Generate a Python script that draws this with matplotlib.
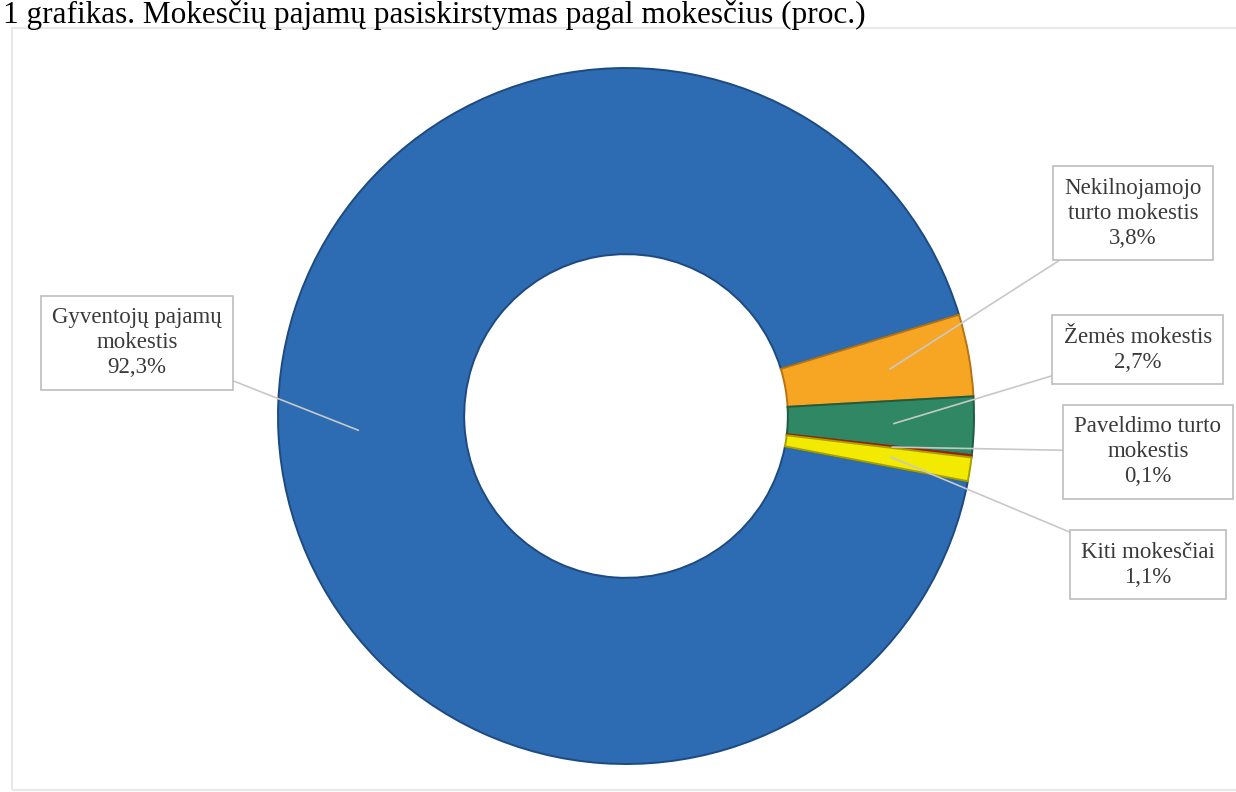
import matplotlib.pyplot as plt
import numpy as np
from matplotlib.patches import Rectangle

labels = ['Gyventojų pajamų\nmokestis', 'Nekilnojamojo\nturto mokestis', 'Žemės mokestis',
          'Paveldimo turto\nmokestis', 'Kiti mokesčiai']
values = [92.3, 3.8, 2.7, 0.1, 1.1]
colors = ['#2d6cb2', '#f7a624', '#2f8863', '#e0301e', '#f2ea00']
edges = ['#1d4a80', '#b87310', '#1f5c42', '#a02010', '#a8a000']

# label box centres (data units, radius = 1)
label_pos = [(-1.405, 0.21), (1.457, 0.583), (1.471, 0.19), (1.50, -0.103), (1.50, -0.428)]

title = '1 grafikas. Mokesčių pajamų pasiskirstymas pagal mokesčius (proc.)'

plt.rcParams['font.family'] = ['Liberation Serif', 'DejaVu Serif']

fig = plt.figure(figsize=(12.36, 7.92), dpi=100)
fig.patch.set_facecolor('white')

# faint chart-area border
fig.patches.append(Rectangle((12 / 1236, 2 / 792), 1.2, 762 / 792, transform=fig.transFigure,
                             fill=False, edgecolor='#e8e8e8', linewidth=1.5))

fig.text(3 / 1236, 1 - 23 / 792, title, fontsize=22.5, va='baseline', ha='left', color='black')

cx, cy, r = 626, 416, 348
side = 2 * r * 1.1
ax = fig.add_axes([(cx - side / 2) / 1236, (792 - cy - side / 2) / 792, side / 1236, side / 792])

wedges, _ = ax.pie(values, colors=colors, startangle=-10.8, counterclock=False, radius=1,
                   wedgeprops=dict(width=0.535, linewidth=1.4))
for w, ec in zip(wedges, edges):
    w.set_edgecolor(ec)

ax.set_xlim(-1.1, 1.1)
ax.set_ylim(-1.1, 1.1)
ax.set_aspect('equal')
ax.axis('off')

for w, lab, val, pos in zip(wedges, labels, values, label_pos):
    t1, t2 = w.theta1, w.theta2
    mid = np.deg2rad((t1 + t2) / 2)
    px, py = 0.77 * np.cos(mid), 0.77 * np.sin(mid)
    txt = lab + '\n' + f'{val:.1f}%'.replace('.', ',')
    ax.annotate(txt, xy=(px, py), xytext=pos, ha='center', va='center', fontsize=16.5,
                color='#3a3a3a', annotation_clip=False, linespacing=1.25,
                bbox=dict(boxstyle='square,pad=0.5', fc='white', ec='#bdbdbd', lw=1.2),
                arrowprops=dict(arrowstyle='-', color='#c8c8c8', lw=1.2,
                                shrinkA=0, shrinkB=0))

fig.savefig('out.png', dpi=100)
